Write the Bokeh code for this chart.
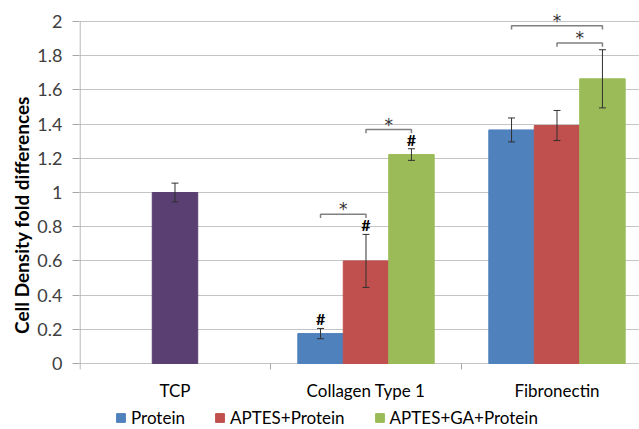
from bokeh.plotting import figure
from bokeh.models import (Range1d, FixedTicker, Legend, LegendItem, Whisker,
                          ColumnDataSource, TeeHead, NumeralTickFormatter, Title)
from bokeh.core.properties import value
from bokeh.embed import file_html
from bokeh.resources import INLINE

# ---- data ----
groups = ["TCP", "Collagen Type 1", "Fibronectin"]
series = ["Protein", "APTES+Protein", "APTES+GA+Protein"]
series_colors = ["#4F81BD", "#C0504D", "#9BBB59"]
tcp_color = "#5A3F72"

tcp_value = [1.0]
tcp_err = [0.055]
# values for [Collagen Type 1, Fibronectin]
protein = [0.175, 1.366]
protein_err = [0.030, 0.070]
aptes_protein = [0.600, 1.392]
aptes_protein_err = [0.155, 0.088]
aptes_ga_protein = [1.222, 1.665]
aptes_ga_protein_err = [0.034, 0.170]

y_ticks = [0, 0.2, 0.4, 0.6, 0.8, 1.0, 1.2, 1.4, 1.6, 1.8, 2.0]
y_label = "Cell Density fold differences"

# significance: '#' over all Collagen bars
hash_group = [1, 1, 1]
hash_series = [0, 1, 2]
# brackets: group index, from series, to series, level
bracket_group = [1, 1, 2, 2]
bracket_from = [0, 1, 0, 1]
bracket_to = [1, 2, 2, 2]
bracket_level = [0.873, 1.368, 1.975, 1.875]

FONT = "Lato"
bar_w = 0.238
offsets = [-bar_w, 0.0, bar_w]

p = figure(width=639, height=429, x_range=Range1d(0, 2.932),
           y_range=Range1d(-0.386, 2.123), x_axis_location=None,
           toolbar_location=None, output_backend="svg",
           min_border_left=79, min_border_right=0, min_border_top=0,
           min_border_bottom=0)
p.outline_line_color = None
p.background_fill_color = "white"

# grid & axis
p.xgrid.visible = False
p.ygrid.ticker = FixedTicker(ticks=y_ticks)
p.ygrid.grid_line_color = "#C4C4C4"
p.ygrid.grid_line_width = 1.2
ax = p.yaxis[0]
ax.ticker = FixedTicker(ticks=y_ticks)
ax.formatter = NumeralTickFormatter(format="0.[0]")
ax.axis_line_color = None
ax.major_tick_out = 7
ax.major_tick_in = 0
ax.major_tick_line_color = "#A6A6A6"
ax.minor_tick_line_color = None
ax.major_label_text_font = FONT
ax.major_label_text_font_size = "18px"
ax.major_label_text_color = "#404040"
ax.major_label_standoff = 10

# y-axis title, centred on the 0..2 value span
ytitle = Title(text=y_label, align="center", offset=22, standoff=4,
               text_font=FONT, text_font_size="19px", text_font_style="bold",
               text_color="black")
p.add_layout(ytitle, "left")

# manual axis lines
p.segment(x0=[0.003], y0=[-0.035], x1=[0.003], y1=[y_ticks[-1]],
          line_color="#A6A6A6", line_width=1)
boundaries = [i + 1 for i in range(len(groups) - 1)]
p.segment(x0=boundaries, y0=[0] * len(boundaries), x1=boundaries,
          y1=[-0.035] * len(boundaries), line_color="#A6A6A6", line_width=1)

# TCP bar
p.vbar(x=[0.5], top=tcp_value, width=bar_w, fill_color=tcp_color,
       line_color=tcp_color)

vals = [protein, aptes_protein, aptes_ga_protein]
errs = [protein_err, aptes_protein_err, aptes_ga_protein_err]
renderers = []
whisk_x, whisk_u, whisk_l = [0.5], [tcp_value[0] + tcp_err[0]], [tcp_value[0] - tcp_err[0]]
for s in range(3):
    xs = [g + 0.5 + offsets[s] for g in (1, 2)]
    r = p.vbar(x=xs, top=vals[s], width=bar_w, fill_color=series_colors[s],
               line_color=series_colors[s])
    renderers.append(r)
    for i, x in enumerate(xs):
        whisk_x.append(x)
        whisk_u.append(vals[s][i] + errs[s][i])
        whisk_l.append(vals[s][i] - errs[s][i])

wsrc = ColumnDataSource(dict(x=whisk_x, upper=whisk_u, lower=whisk_l))
w = Whisker(source=wsrc, base="x", upper="upper", lower="lower",
            line_color="#303030", line_width=1, level="overlay",
            upper_head=TeeHead(size=7, line_color="#303030", line_width=1),
            lower_head=TeeHead(size=7, line_color="#303030", line_width=1))
p.add_layout(w)

# '#' markers
hx = [g + 0.5 + offsets[s] for g, s in zip(hash_group, hash_series)]
hy = [vals[s][g - 1] + errs[s][g - 1] for g, s in zip(hash_group, hash_series)]
p.text(x=hx, y=hy, text=["#"] * len(hx), text_font=value(FONT),
       text_font_size="16px", text_font_style="bold", text_align="center",
       text_baseline="bottom", text_color="black", y_offset=0)

# brackets
tick = 0.022
bxs, bys, sx, sy = [], [], [], []
for g, a, b, lv in zip(bracket_group, bracket_from, bracket_to, bracket_level):
    x0 = g + 0.5 + offsets[a]
    x1 = g + 0.5 + offsets[b]
    bxs.append([x0, x0, x1, x1])
    bys.append([lv - tick, lv, lv, lv - tick])
    sx.append((x0 + x1) / 2)
    sy.append(lv)
p.multi_line(xs=bxs, ys=bys, line_color="#808080", line_width=1.5)
p.text(x=sx, y=sy, text=["*"] * len(sx), text_font=value("DejaVu Sans"),
       text_font_size="17px", text_align="center", text_baseline="alphabetic",
       text_color="#303030", y_offset=-5)

# category labels
p.text(x=[i + 0.5 for i in range(len(groups))], y=[-0.155] * len(groups),
       text=groups, text_font=value(FONT), text_font_size="17px",
       text_align="center", text_baseline="middle", text_color="black")

legend = Legend(items=[LegendItem(label=series[i], renderers=[renderers[i]])
                       for i in range(3)],
                orientation="horizontal", location=(36, 1))
legend.label_text_font = FONT
legend.label_text_font_size = "17px"
legend.label_text_color = "black"
legend.glyph_width = 11
legend.glyph_height = 11
legend.label_height = 14
legend.label_standoff = 5
legend.spacing = 29
legend.padding = 0
legend.margin = 0
legend.border_line_color = None
legend.background_fill_alpha = 0
p.add_layout(legend)

open("out.html", "w").write(file_html(p, INLINE))
